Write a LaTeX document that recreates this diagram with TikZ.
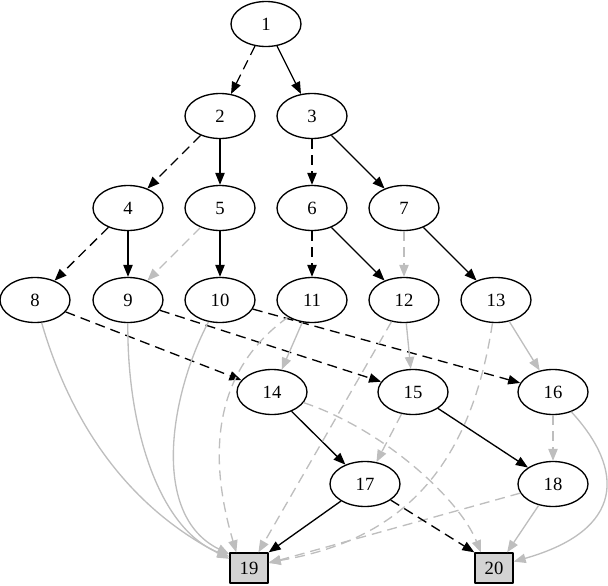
\documentclass[tikz,border=0pt]{standalone}
\usepackage{fontspec}
\setmainfont{Liberation Serif}
\usetikzlibrary{arrows.meta,shapes.geometric}
\definecolor{egray}{RGB}{190,190,190}
\definecolor{lgray}{RGB}{211,211,211}
\begin{document}
\begin{tikzpicture}[x=0.75pt,y=-0.75pt,font=\fontsize{14}{16}\selectfont,line join=round,
	>={Triangle[length=9pt,width=7pt]},
	bdd/.style={draw,ellipse,line width=1pt,minimum width=52.5pt,minimum height=33.75pt,inner sep=0pt},
	leaf/.style={draw,rectangle,fill=lgray,line width=1pt,minimum width=28.5pt,minimum height=22.5pt,inner sep=0pt},
	hi/.style={->,line width=1pt},
	lo/.style={->,line width=1pt,dash pattern=on 7.5pt off 4.5pt},
	ghi/.style={hi,egray},
	glo/.style={lo,egray}]
	\useasboundingbox (0,0) rectangle (608,586);
	\node[bdd] (n1) at (266,24) {1};
	\node[bdd] (n2) at (220,116) {2};
	\node[bdd] (n3) at (312,116) {3};
	\node[bdd] (n4) at (128,208) {4};
	\node[bdd] (n5) at (220,208) {5};
	\node[bdd] (n6) at (312,208) {6};
	\node[bdd] (n7) at (404,208) {7};
	\node[bdd] (n8) at (35,300) {8};
	\node[bdd] (n9) at (128,300) {9};
	\node[bdd] (n10) at (220,300) {10};
	\node[bdd] (n11) at (312,300) {11};
	\node[bdd] (n12) at (404,300) {12};
	\node[bdd] (n13) at (496,300) {13};
	\node[bdd] (n14) at (272,392) {14};
	\node[bdd] (n15) at (413,392) {15};
	\node[bdd] (n16) at (553,392) {16};
	\node[bdd] (n17) at (365,484) {17};
	\node[bdd] (n18) at (553,484) {18};
	\node[leaf] (n19) at (249,568) {19};
	\node[leaf] (n20) at (494,568) {20};
	% upper levels
	\draw[lo] (n1) -- (n2);
	\draw[hi] (n1) -- (n3);
	\draw[lo] (n2) -- (n4);
	\draw[hi] (n2) -- (n5);
	\draw[lo] (n3) -- (n6);
	\draw[hi] (n3) -- (n7);
	\draw[lo] (n4) -- (n8);
	\draw[hi] (n4) -- (n9);
	\draw[glo] (n5) -- (n9);
	\draw[hi] (n5) -- (n10);
	\draw[lo] (n6) -- (n11);
	\draw[hi] (n6) -- (n12);
	\draw[glo] (n7) -- (n12);
	\draw[hi] (n7) -- (n13);
	% middle levels
	\draw[lo] (n8) -- (n14);
	\draw[lo] (n9) -- (n15);
	\draw[lo] (n10) -- (n16);
	\draw[ghi] (n11) -- (n14);
	\draw[ghi] (n12) -- (n15);
	\draw[ghi] (n13) -- (n16);
	\draw[hi] (n14) -- (n17);
	\draw[glo] (n15) -- (n17);
	\draw[hi] (n15) -- (n18);
	\draw[glo] (n16) -- (n18);
	% to the leaves
	\draw[ghi] (n8) .. controls (70,420) and (125,505) .. (n19.155);
	\draw[ghi] (n9) .. controls (127,430) and (160,530) .. (n19.150);
	\draw[ghi] (n10) .. controls (170,395) and (150,515) .. (n19.145);
	\draw[glo] (n11) .. controls (200,380) and (215,480) .. (n19.129);
	\draw[glo] (n12) -- (n19.59);
	\draw[glo] (n13) .. controls (470,470) and (400,540) .. (n19.16);
	\draw[glo] (n18) -- (n19.14);
	\draw[hi] (n17) -- (n19.north east);
	\draw[glo] (n14) .. controls (385,430) and (460,500) .. (n20.130);
	\draw[lo] (n17) -- (n20.north west);
	\draw[ghi] (n18) -- (n20.50);
	\draw[ghi] (n16) .. controls (625,470) and (625,530) .. (n20.18);
\end{tikzpicture}
\end{document}
